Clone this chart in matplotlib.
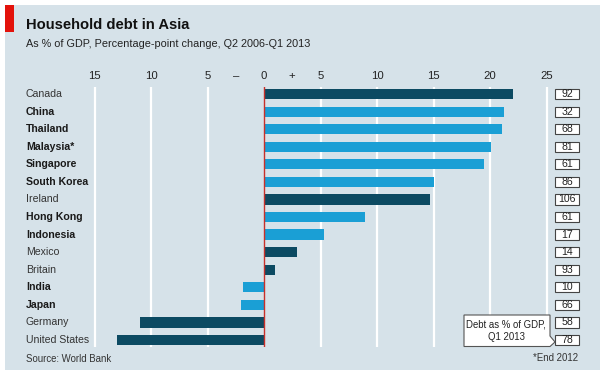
import matplotlib
matplotlib.use("Agg")
import matplotlib.pyplot as plt
from matplotlib.patches import Rectangle, Polygon
from matplotlib.transforms import blended_transform_factory
from matplotlib import font_manager

countries = ["Canada", "China", "Thailand", "Malaysia*", "Singapore", "South Korea",
             "Ireland", "Hong Kong", "Indonesia", "Mexico", "Britain", "India",
             "Japan", "Germany", "United States"]
change = [22.0, 21.2, 21.1, 20.1, 19.5, 15.0, 14.7, 8.9, 5.3, 2.9, 1.0, -1.9, -2.0, -11.0, -13.0]
debt = [92, 32, 68, 81, 61, 86, 106, 61, 17, 14, 93, 10, 66, 58, 78]
asian = [False, True, True, True, True, True, False, True, True, False, False, True, True, False, False]
tick_pos = [-15, -10, -5, -2.5, 0, 2.5, 5, 10, 15, 20, 25]
tick_lab = ["15", "10", "5", "–", "0", "+", "5", "10", "15", "20", "25"]
grid_pos = [-15, -10, -5, 5, 10, 15, 20, 25]

names = {f.name for f in font_manager.fontManager.ttflist}
FONT = ["Liberation Sans Narrow", "DejaVu Sans"] if "Liberation Sans Narrow" in names else ["Liberation Sans", "DejaVu Sans"]
plt.rcParams['font.family'] = FONT

W, H = 602, 377
BG = "#d6e2e9"
DARK = "#0c4a62"
LIGHT = "#1a9fd5"

def fx(p): return p / W
def fy(p): return 1 - p / H

fig = plt.figure(figsize=(W / 100, H / 100), dpi=100, facecolor="white")
fig.patches.append(Rectangle((fx(5), fy(370)), fx(595), 365 / H, transform=fig.transFigure,
                             facecolor=BG, edgecolor="none", zorder=-10))
fig.patches.append(Rectangle((fx(5), fy(32)), fx(9), 27 / H, transform=fig.transFigure,
                             facecolor="#e3120b", edgecolor="none", zorder=1))

# axes: x pixel = 264 + 11.3*v ; y rows centered at 94 + 17.57*i
x0, x1 = -16, 26
L = 264 + 11.3 * x0
R = 264 + 11.3 * x1
top, bot = 87, 347
ax = fig.add_axes([fx(L), fy(bot), (R - L) / W, (bot - top) / H])
ax.set_facecolor("none")
ax.set_zorder(2)
ax.set_xlim(x0, x1)
ax.set_ylim(14.4, -0.4)
for s in ax.spines.values():
    s.set_visible(False)
ax.set_yticks([])
ax.set_xticks([])

for g in grid_pos:
    ax.axvline(g, color="white", lw=1.6, zorder=1)

ypos = list(range(len(countries)))
colors = [LIGHT if a else DARK for a in asian]
ax.barh(ypos, change, height=0.58, color=colors, zorder=2)
ax.axvline(0, color="#c8302a", lw=1.0, zorder=3)

# top tick labels
tr_top = blended_transform_factory(ax.transData, fig.transFigure)
for p, l in zip(tick_pos, tick_lab):
    ax.text(p, fy(76), l, transform=tr_top, ha="center", va="center", fontsize=8.2,
            color="#222222", clip_on=False)

# country labels
tr_lab = blended_transform_factory(fig.transFigure, ax.transData)
for y, c, a in zip(ypos, countries, asian):
    ax.text(fx(26), y, c, transform=tr_lab, ha="left", va="center", fontsize=7.6,
            color="#1a1a1a" if a else "#333333", fontweight="bold" if a else "normal", clip_on=False)

# value boxes
bw = 24
for y, d in zip(ypos, debt):
    ax.add_patch(Rectangle((fx(555), y - 0.29), bw / W, 0.58, transform=tr_lab, facecolor="white",
                           edgecolor="#444444", lw=0.8, clip_on=False, zorder=4))
    ax.text(fx(555 + bw / 2), y, str(d), transform=tr_lab, ha="center", va="center",
            fontsize=7.6, color="#222222", clip_on=False, zorder=5)

# callout
pts = [(464, 315), (550, 315), (550, 336), (555, 342), (550, 346.5), (464, 346.5)]
fig.patches.append(Polygon([(fx(x), fy(y)) for x, y in pts], closed=True, transform=fig.transFigure,
                           facecolor="white", edgecolor="#555555", lw=0.8, zorder=5))
fig.text(fx(506), fy(331), "Debt as % of GDP,\nQ1 2013", ha="center", va="center", fontsize=6.9,
         color="#222222", linespacing=1.35, zorder=6)

fig.text(fx(26), fy(25), "Household debt in Asia", ha="left", va="center", fontsize=10.6,
         fontweight="bold", color="#111111")
fig.text(fx(26), fy(44), "As % of GDP, Percentage-point change, Q2 2006-Q1 2013", ha="left",
         va="center", fontsize=7.8, color="#222222")
fig.text(fx(26), fy(359), "Source: World Bank", ha="left", va="center", fontsize=6.9, color="#333333")
fig.text(fx(578), fy(358), "*End 2012", ha="right", va="center", fontsize=6.9, color="#333333")

fig.savefig("out.png", dpi=100, facecolor="white")
